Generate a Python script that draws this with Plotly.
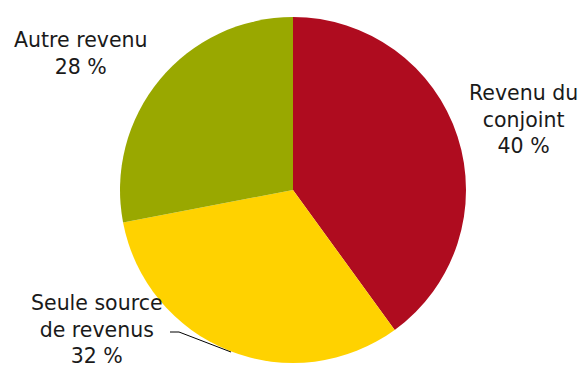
import plotly.graph_objects as go

labels = ["Revenu du conjoint", "Seule source de revenus", "Autre revenu"]
label_text = ["Revenu du<br>conjoint", "Seule source<br>de revenus", "Autre revenu"]
values = [40, 32, 28]
colors = ["#AF0C1F", "#FFD200", "#99A800"]

W, H = 584, 367
cx, cy, r = 293, 190, 173

fig = go.Figure(go.Pie(
    labels=labels, values=values, sort=False, direction="clockwise", rotation=0,
    marker=dict(colors=colors, line=dict(width=0)),
    textinfo="none", hoverinfo="label+percent", showlegend=False,
    domain=dict(x=[(cx - r) / W, (cx + r) / W], y=[(H - cy - r) / H, (H - cy + r) / H]),
))

label_pos = [(523, 120), (97, 329), (80, 54)]
for txt, v, (px, py) in zip(label_text, values, label_pos):
    fig.add_annotation(x=px / W, y=1 - py / H, xref="paper", yref="paper",
                       text=f"{txt}<br>{v} %", showarrow=False,
                       xanchor="center", yanchor="middle", align="center",
                       font=dict(family="DejaVu Sans", size=20.5, color="#1a1a1a"))

pts = [(170, 332), (179, 332), (231, 352)]
path = "M " + " L ".join(f"{x / W},{1 - y / H}" for x, y in pts)
fig.add_shape(type="path", path=path, xref="paper", yref="paper",
              line=dict(color="#000000", width=1))

fig.update_layout(width=W, height=H, margin=dict(l=0, r=0, t=0, b=0),
                  paper_bgcolor="white", plot_bgcolor="white")
fig.write_html("out.html")
